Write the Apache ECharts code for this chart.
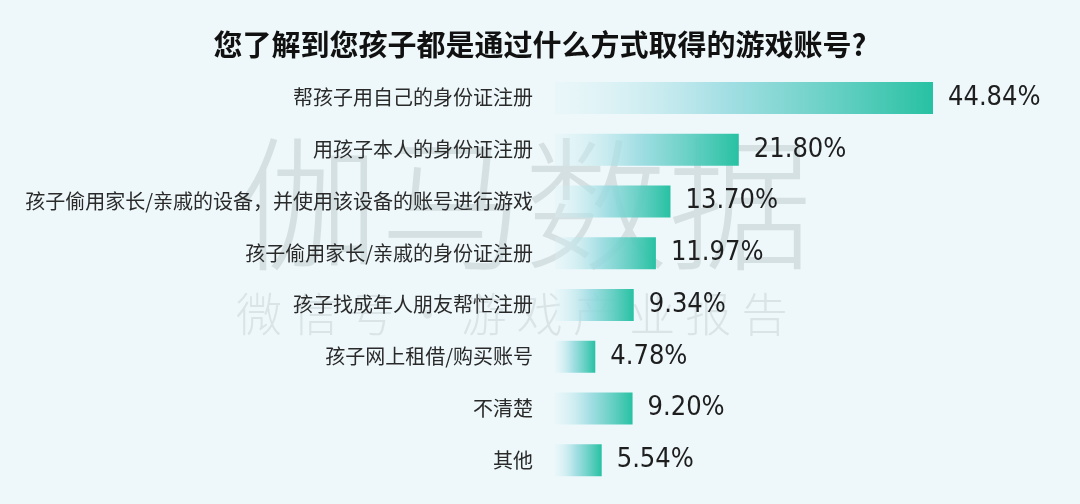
<!DOCTYPE html>
<html><head><meta charset="utf-8">
<script src="https://cdn.jsdelivr.net/npm/echarts@6/dist/echarts.min.js"></script>
<style>html,body{margin:0;padding:0;background:#eef8fa;}#c{width:1080px;height:504px;}</style>
</head><body><div id="c"></div>
<script>
const title = '您了解到您孩子都是通过什么方式取得的游戏账号?';
const categories = ['帮孩子用自己的身份证注册','用孩子本人的身份证注册','孩子偷用家长/亲戚的设备，并使用该设备的账号进行游戏','孩子偷用家长/亲戚的身份证注册','孩子找成年人朋友帮忙注册','孩子网上租借/购买账号','不清楚','其他'];
const values = [44.84, 21.80, 13.70, 11.97, 9.34, 4.78, 9.20, 5.54];
const watermarkMain = '伽马数据';
const watermarkSub = '微 信 号 · 游 戏 产 业 报 告';

const chart = echarts.init(document.getElementById('c'));
const grad = new echarts.graphic.LinearGradient(0,0,1,0,[
  {offset:0,color:'rgba(220,242,246,0.25)'},
  {offset:0.45,color:'rgba(150,218,224,0.85)'},
  {offset:1,color:'#27c1a3'}
]);
chart.setOption({
  backgroundColor:'#eef8fa',
  title:{text:title,left:'center',top:25,textStyle:{fontSize:29,fontWeight:'bold',color:'#111',fontFamily:'Noto Sans CJK SC'}},
  graphic:[
    {type:'text',left:236,top:132,z:-10,silent:true,style:{text:watermarkMain,font:'300 144px "Noto Sans CJK SC"',fill:'rgba(150,160,165,0.28)'}},
    {type:'text',left:236,top:291,z:-10,silent:true,style:{text:watermarkSub,font:'300 46px "Noto Sans CJK SC"',fill:'rgba(150,160,165,0.22)'}}
  ],
  grid:{left:555,top:72,width:421.5,height:414},
  xAxis:{type:'value',min:0,max:50,show:false},
  yAxis:{type:'category',data:categories,inverse:true,axisLine:{show:false},axisTick:{show:false},
    axisLabel:{margin:22,fontSize:20,color:'#2a2a2a',fontFamily:'Noto Sans CJK SC'}},
  series:[{type:'bar',data:values,barWidth:32,itemStyle:{color:grad},
    label:{show:true,position:'right',distance:15,formatter:p=>p.value.toFixed(2)+'%',
      fontSize:27,color:'#1e1e1e',fontFamily:'Liberation Sans Narrow, DejaVu Sans Condensed, Roboto',fontWeight:'normal'}}]
});
</script></body></html>
